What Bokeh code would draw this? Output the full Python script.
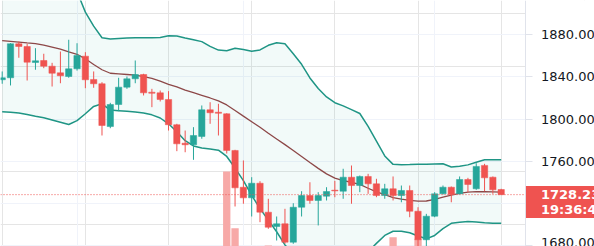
from bokeh.plotting import figure
from bokeh.models import (Range1d, FixedTicker, Grid, Label, PrintfTickFormatter,
                          ColumnDataSource, LinearAxis, BoxAnnotation)
from bokeh.embed import file_html
from bokeh.resources import INLINE

# ---- data ----
opens = [1837.3, 1839.2, 1871.5, 1868.9, 1853.7, 1855.6, 1850.2, 1843.9, 1840.4, 1847.7,
         1859.7, 1837.6, 1833.5, 1792.9, 1813.8, 1830.3, 1838.2, 1842.3, 1825.5, 1824.9,
         1818.6, 1794.6, 1777.1, 1775.6, 1783.5, 1808.8, 1806.5, 1805.0, 1770.2, 1735.3,
         1725.2, 1739.1, 1711.6, 1698.0, 1700.6, 1683.1, 1716.3, 1727.4, 1722.7, 1726.8,
         1732.5, 1731.5, 1744.8, 1736.9, 1745.5, 1738.5, 1727.4, 1733.8, 1727.4, 1732.2,
         1712.5, 1685.4, 1707.8, 1729.0, 1735.3, 1729.0, 1742.6, 1733.8, 1756.0, 1744.8,
         1733.1]
highs = [1845.2, 1872.0, 1873.6, 1871.5, 1867.3, 1862.0, 1853.4, 1864.1, 1875.3, 1872.0,
         1863.5, 1845.2, 1835.0, 1815.4, 1839.2, 1840.4, 1855.6, 1843.0, 1828.7, 1827.1,
         1826.5, 1795.5, 1789.1, 1792.3, 1812.9, 1816.0, 1814.5, 1805.5, 1770.8, 1760.7,
         1744.8, 1741.0, 1724.3, 1707.5, 1714.8, 1720.1, 1731.5, 1740.0, 1730.6, 1735.3,
         1741.3, 1752.8, 1755.9, 1746.4, 1748.0, 1743.3, 1738.5, 1745.5, 1736.9, 1736.9,
         1716.3, 1710.0, 1730.6, 1736.9, 1736.0, 1745.5, 1744.2, 1758.1, 1757.5, 1745.5,
         1733.8]
lows = [1833.5, 1831.9, 1858.2, 1836.6, 1846.8, 1848.3, 1830.9, 1834.0, 1839.2, 1846.0,
        1829.3, 1829.7, 1784.4, 1791.3, 1807.5, 1828.7, 1834.0, 1822.4, 1811.3, 1816.7,
        1789.1, 1769.5, 1768.5, 1761.3, 1781.3, 1795.5, 1784.4, 1767.3, 1717.0, 1719.6,
        1707.5, 1702.1, 1695.8, 1684.7, 1681.6, 1681.6, 1707.5, 1719.6, 1699.0, 1722.7,
        1725.8, 1724.3, 1719.6, 1730.6, 1729.0, 1725.8, 1724.3, 1722.7, 1721.0, 1706.8,
        1676.0, 1676.0, 1706.8, 1728.4, 1721.0, 1728.4, 1730.6, 1732.8, 1731.5, 1729.0,
        1728.2]
closes = [1839.2, 1871.5, 1868.9, 1854.0, 1855.3, 1850.2, 1843.5, 1841.1, 1847.7, 1860.3,
          1837.3, 1833.5, 1793.9, 1813.8, 1830.3, 1838.2, 1842.3, 1824.9, 1824.5, 1818.6,
          1794.6, 1776.5, 1775.6, 1784.4, 1808.8, 1806.0, 1805.5, 1770.2, 1734.7, 1725.2,
          1739.1, 1711.6, 1697.3, 1700.6, 1683.1, 1716.3, 1727.4, 1722.7, 1727.4, 1731.2,
          1731.8, 1744.8, 1736.9, 1745.5, 1738.5, 1727.4, 1733.8, 1727.4, 1732.2, 1712.5,
          1685.4, 1707.8, 1729.0, 1735.3, 1728.4, 1742.6, 1737.9, 1755.0, 1744.2, 1732.8,
          1728.23]
volumes = [12, 15, 11, 14, 10, 9, 13, 11, 14, 12,
           15, 10, 18, 14, 12, 9, 11, 13, 8, 9,
           16, 17, 12, 13, 14, 10, 11, 44.4, 25.9, 18,
           15, 17, 20.3, 12, 16, 17, 13, 11, 14, 10,
           9, 13, 15, 10, 9, 14, 11, 23.0, 10, 16,
           22.5, 18, 15, 10, 11, 13, 9, 14, 12, 11,
           7]
bb_upper = [1990, 1985, 1978, 1970, 1962, 1953, 1944, 1936, 1932, 1921,
            1901.5, 1888.2, 1877.2, 1876.0, 1876.5, 1877.0, 1877.2, 1877.2, 1877.2, 1877.4,
            1879.0, 1878.8, 1877.0, 1875.3, 1873.5, 1869.0, 1865.5, 1864.8, 1867.3, 1866.0,
            1864.4, 1865.6, 1870.0, 1872.4, 1871.5, 1862.0, 1852.0, 1839.0, 1829.0, 1821.0,
            1815.5, 1812.5, 1809.0, 1805.3, 1793.0, 1779.0, 1765.0, 1757.0, 1756.7, 1756.8,
            1757.0, 1757.2, 1757.4, 1757.5, 1754.5, 1755.3, 1756.5, 1759.0, 1761.3, 1761.3,
            1761.3]
bb_basis = [1874.4, 1873.8, 1873.1, 1872.3, 1871.6, 1870.2, 1868.4, 1866.4, 1863.8, 1861.5,
            1857.2, 1851.8, 1846.8, 1843.5, 1842.9, 1842.3, 1841.7, 1840.2, 1838.6, 1836.0,
            1833.0, 1830.6, 1827.5, 1825.0, 1822.5, 1820.0, 1817.2, 1813.4, 1808.2, 1802.8,
            1797.5, 1792.2, 1786.5, 1781.0, 1775.7, 1770.2, 1764.5, 1758.8, 1753.2, 1748.0,
            1744.0, 1741.5, 1740.0, 1738.0, 1734.3, 1730.8, 1728.2, 1725.5, 1724.0, 1722.8,
            1722.0, 1722.2, 1723.8, 1725.8, 1727.8, 1729.5, 1730.7, 1731.2, 1731.0, 1730.8,
            1730.6]
bb_lower = [1807.0, 1806.5, 1805.7, 1804.3, 1802.7, 1801.2, 1799.2, 1797.0, 1794.8, 1798.5,
            1805.0, 1812.0, 1814.5, 1808.5, 1808.0, 1807.5, 1806.8, 1805.8, 1804.0, 1801.0,
            1795.5, 1788.0, 1779.5, 1774.5, 1772.5, 1771.6, 1770.5, 1764.5, 1753.5, 1741.5,
            1727.5, 1715.0, 1704.0, 1693.0, 1680.5, 1672.0, 1666.0, 1662.0, 1660.0, 1660.0,
            1661.0, 1663.0, 1666.0, 1670.0, 1674.0, 1682.0, 1689.5, 1693.5, 1693.5, 1692.0,
            1689.0, 1686.3, 1689.5, 1696.0, 1701.0, 1702.0, 1702.7, 1702.3, 1701.5, 1701.2,
            1701.1]
price_ticks = [1680, 1720, 1760, 1800, 1840, 1880]
time_grid_idx = [9, 29, 52]
last_price = 1728.23
countdown = "19:36:41"

UP = "#26a69a"
DOWN = "#ef5350"

# price scale sits at bar position AXIS_X; the frame spans the whole canvas
AXIS_X = 62.98

idx = list(range(len(opens)))
colors = [UP if c >= o else DOWN for o, c in zip(opens, closes)]
src = ColumnDataSource(dict(
    x=idx, o=opens, h=highs, l=lows, c=closes,
    top=[max(o, c) for o, c in zip(opens, closes)],
    bot=[min(o, c) for o, c in zip(opens, closes)],
    color=colors, vol=volumes,
    up=bb_upper, mid=bb_basis, low=bb_lower,
))

p = figure(width=594, height=246, output_backend="svg", toolbar_location=None,
           x_axis_location=None, y_axis_location=None,
           x_range=Range1d(-0.204, 71.22), y_range=Range1d(1679.01, 1912.56),
           min_border=0, outline_line_color=None, background_fill_color="white",
           border_fill_color="white")
p.extra_y_ranges = {"vol": Range1d(20, 100)}

# grids
p.add_layout(Grid(dimension=1, ticker=FixedTicker(ticks=price_ticks), grid_line_color="#f0f3fa"))
p.add_layout(Grid(dimension=0, ticker=FixedTicker(ticks=time_grid_idx), grid_line_color="#f0f3fa"))
# blank price-scale area (covers grid lines there)
p.add_layout(BoxAnnotation(left=AXIS_X, fill_color="white", fill_alpha=1.0,
                           line_color=None, level="underlay"))

# axis
ax = LinearAxis(fixed_location=AXIS_X)
ax.ticker = FixedTicker(ticks=price_ticks)
ax.formatter = PrintfTickFormatter(format="%.2f")
ax.major_tick_out = 7
ax.major_tick_in = 0
ax.minor_tick_line_color = None
ax.major_tick_line_color = "#e0e3eb"
ax.axis_line_color = "#e0e3eb"
ax.major_label_standoff = 8
ax.major_label_text_font = "DejaVu Sans"
ax.major_label_text_font_size = "13px"
ax.major_label_text_color = "#131722"
p.add_layout(ax, "right")

# bands
p.varea(x="x", y1="low", y2="up", source=src, fill_color=UP, fill_alpha=0.06)
p.vbar(x="x", top="vol", bottom=0, width=0.88, source=src, y_range_name="vol",
       fill_color="#f7a9a7", line_color=None)
p.line(x="x", y="up", source=src, line_color="#1f9585", line_width=1.5)
p.line(x="x", y="low", source=src, line_color="#1f9585", line_width=1.5)
p.line(x="x", y="mid", source=src, line_color="#8d4848", line_width=1.3)

# candles
p.segment(x0="x", y0="h", x1="x", y1="l", source=src, line_color="color", line_width=1)
p.vbar(x="x", top="top", bottom="bot", width=0.76, source=src,
       fill_color="color", line_color="color", line_width=0.5)

p.segment(x0=[-0.204], y0=[last_price], x1=[AXIS_X], y1=[last_price],
          line_color=DOWN, line_dash="1 2", line_width=1)

lbl = Label(x=AXIS_X, y=1736.5, x_units="data", y_units="data",
            text="%.2f\n%s" % (last_price, countdown),
            text_font="DejaVu Sans", text_font_size="13px", text_font_style="bold",
            text_color="white", text_align="left", text_baseline="top",
            text_line_height=1.0,
            background_fill_color=DOWN, border_line_color=None,
            padding=dict(left=15, right=40, top=1, bottom=1))
p.add_layout(lbl)

open("out.html", "w").write(file_html(p, INLINE))
